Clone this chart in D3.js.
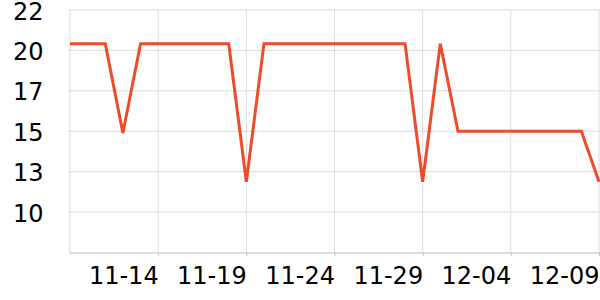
<!DOCTYPE html>
<html><head><meta charset="utf-8">
<script src="https://cdn.jsdelivr.net/npm/d3@7"></script>
<style>body{margin:0;background:#fff}svg{display:block}</style></head>
<body><svg id="c" width="600" height="300"></svg>
<script>
const dates = ["11-09","11-10","11-11","11-12","11-13","11-14","11-15","11-16","11-17","11-18",
  "11-19","11-20","11-21","11-22","11-23","11-24","11-25","11-26","11-27","11-28",
  "11-29","11-30","12-01","12-02","12-03","12-04","12-05","12-06","12-07","12-08","12-09"];
const values = [20.2,20.2,20.2,14.9,20.2,20.2,20.2,20.2,20.2,20.2,
  12.0,20.2,20.2,20.2,20.2,20.2,20.2,20.2,20.2,20.2,
  12.0,20.2,15.0,15.0,15.0,15.0,15.0,15.0,15.0,15.0,12.0];
const xTickLabels = ["11-14","11-19","11-24","11-29","12-04","12-09"];
const yTickValues = [7.8,10.2,12.6,15.0,17.4,19.8,22.2];
const yDomain = [7.8,22.2];

(function(){
const parse = s => d3.timeParse("%Y-%m-%d")("2023-" + s);
const data = dates.map((d,i)=>({date: parse(d), value: values[i]}));

const mL=70, mR=599, mT=10, mB=252.5;
const svg = d3.select("#c");
const x = d3.scaleTime().domain(d3.extent(data,d=>d.date)).range([mL,mR]);
const y = d3.scaleLinear().domain(yDomain).range([mB,mT]);
const fmtY = d3.format(".0f");

// horizontal grid
svg.append("g").selectAll("line").data(yTickValues.slice(1)).join("line")
  .attr("x1",mL-2).attr("x2",600).attr("y1",d=>y(d)).attr("y2",d=>y(d))
  .attr("stroke","#dcdcdc").attr("stroke-width",1);
// vertical grid
svg.append("g").selectAll("line").data(xTickLabels.map(parse)).join("line")
  .attr("x1",d=>x(d)).attr("x2",d=>x(d)).attr("y1",mT).attr("y2",mB)
  .attr("stroke","#dcdcdc").attr("stroke-width",1);
// y axis line
svg.append("line").attr("x1",mL).attr("x2",mL).attr("y1",mT).attr("y2",mB+2)
  .attr("stroke","#dcdcdc");

// x axis
const xAxis = d3.axisBottom(x).tickValues(xTickLabels.map(parse))
  .tickFormat(d3.timeFormat("%m-%d")).tickSizeInner(4).tickSizeOuter(0).tickPadding(8);
const gx = svg.append("g").attr("transform",`translate(0,${mB})`).call(xAxis);
gx.select(".domain").attr("stroke","#bbbbbb").attr("d",`M${mL},0.5H600`);
gx.selectAll(".tick line").attr("stroke","#c8c8c8");
gx.selectAll(".tick text").attr("text-anchor","end").attr("fill","#000")
  .style("font-family","DejaVu Sans").style("font-size","24px").attr("dy","0.81em");

// y labels
svg.append("g").selectAll("text").data(yTickValues.slice(1)).join("text")
  .attr("x",43.5).attr("y",d=>y(d)).attr("dy","0.4em").attr("text-anchor","end")
  .style("font-family","DejaVu Sans").style("font-size","24px").attr("fill","#000")
  .text(d=>fmtY(d));

// line
const line = d3.line().x(d=>x(d.date)).y(d=>y(d.value));
svg.append("path").datum(data).attr("d",line).attr("fill","none")
  .attr("stroke","#ee4b2b").attr("stroke-width",3);
})();
</script></body></html>
